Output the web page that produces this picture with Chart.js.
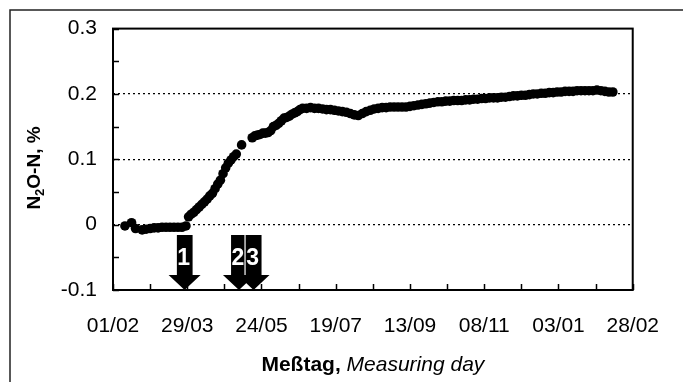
<!DOCTYPE html>
<html>
<head>
<meta charset="utf-8">
<script src="https://cdn.jsdelivr.net/npm/chart.js@4.4.0/dist/chart.umd.min.js"></script>
<style>
  html, body { margin: 0; padding: 0; background: #fff; }
  #wrap { width: 683px; height: 382px; }
</style>
</head>
<body>
<div id="wrap"><canvas id="myChart" width="683" height="382"></canvas></div>
<script>
// measuring day (days after 01/02) and N2O-N in %
const days = [9, 14, 17, 22, 25, 28, 31, 34, 37, 40, 43, 46, 49, 52, 55,
  57, 59, 61, 63, 65, 67, 69, 71, 73, 75, 77, 79, 81, 83, 85, 87, 89, 91, 93, 97,
  105, 107, 109, 111, 113, 115, 117, 119, 121, 123, 125, 127, 129, 131, 133, 135, 137, 139, 141, 143,
  146, 149, 152, 155, 158, 161, 164, 167, 170, 173, 176, 179, 182, 185, 188, 191, 194, 197, 200,
  203, 206, 209, 212, 215, 218, 221, 224, 227, 230, 233, 236, 239, 242, 245, 248, 251, 254, 257,
  260, 263, 266, 269, 272, 275, 278, 281, 284, 287, 290, 293, 296, 299, 302, 305, 308, 311, 314,
  317, 320, 323, 326, 329, 332, 335, 338, 341, 344, 347, 350, 353, 356, 359, 362, 365, 368, 371, 374, 377];
const n2o = [-0.002, 0.003, -0.006, -0.008, -0.007, -0.006, -0.005, -0.005, -0.004, -0.004, -0.004, -0.004, -0.004, -0.004, -0.002,
  0.012, 0.016, 0.019, 0.023, 0.027, 0.031, 0.035, 0.039, 0.044, 0.048, 0.055, 0.062, 0.068, 0.078, 0.087, 0.094, 0.099, 0.104, 0.108, 0.122,
  0.133, 0.136, 0.137, 0.138, 0.140, 0.140, 0.141, 0.144, 0.150, 0.152, 0.155, 0.159, 0.163, 0.164, 0.166, 0.169, 0.171, 0.173, 0.176, 0.178,
  0.178, 0.179, 0.178, 0.178, 0.177, 0.176, 0.176, 0.175, 0.174, 0.173, 0.172, 0.170, 0.168, 0.167, 0.170, 0.173, 0.175, 0.177, 0.178,
  0.179, 0.179, 0.180, 0.180, 0.180, 0.180, 0.180, 0.181, 0.182, 0.183, 0.184, 0.185, 0.186, 0.187, 0.188, 0.188, 0.189, 0.189, 0.190,
  0.190, 0.190, 0.191, 0.191, 0.192, 0.192, 0.193, 0.193, 0.194, 0.194, 0.194, 0.195, 0.195, 0.196, 0.197, 0.197, 0.198, 0.198, 0.199,
  0.200, 0.200, 0.201, 0.201, 0.202, 0.202, 0.203, 0.203, 0.204, 0.204, 0.204, 0.205, 0.205, 0.205, 0.205, 0.205, 0.206, 0.205, 0.204, 0.203, 0.203];

const xTickLabels = ['01/02', '29/03', '24/05', '19/07', '13/09', '08/11', '03/01', '28/02'];
const arrowDays = [54, 95, 106];
const arrowLabels = ['1', '2', '3'];

const FONT = '"Liberation Sans", Arial, sans-serif';

const decorations = {
  id: 'decorations',
  afterDraw(chart) {
    const { ctx, chartArea: a, scales: { x, y } } = chart;
    ctx.save();

    // arrows
    arrowDays.forEach((d, i) => {
      const px = x.getPixelForValue(d);
      const tip = a.bottom;
      const top = tip - 55;
      const headTop = tip - 15;
      ctx.fillStyle = '#000';
      ctx.beginPath();
      ctx.moveTo(px - 8, top);
      ctx.lineTo(px + 8, top);
      ctx.lineTo(px + 8, headTop);
      ctx.lineTo(px + 16, headTop);
      ctx.lineTo(px, tip);
      ctx.lineTo(px - 16, headTop);
      ctx.lineTo(px - 8, headTop);
      ctx.closePath();
      ctx.fill();
      ctx.strokeStyle = '#fff';
      ctx.lineWidth = 1.2;
      ctx.beginPath();
      ctx.moveTo(px - 8.5, top);
      ctx.lineTo(px - 8.5, headTop);
      ctx.stroke();
      ctx.fillStyle = '#fff';
      ctx.font = 'bold 23px ' + FONT;
      ctx.textAlign = 'center';
      ctx.textBaseline = 'middle';
      ctx.fillText(arrowLabels[i], px - 1, tip - 31);
    });

    // outer frame
    ctx.strokeStyle = '#222';
    ctx.lineWidth = 1.5;
    ctx.beginPath();
    ctx.moveTo(10, 382);
    ctx.lineTo(10, 10);
    ctx.lineTo(683, 10);
    ctx.stroke();

    // plot frame
    ctx.strokeStyle = '#000';
    ctx.lineWidth = 2;
    ctx.strokeRect(a.left, a.top, a.right - a.left, a.bottom - a.top);

    // inward tick marks
    ctx.lineWidth = 1.5;
    ctx.beginPath();
    x.ticks.forEach(t => {
      const px = Math.round(x.getPixelForValue(t.value)) + 0.5;
      ctx.moveTo(px, a.bottom);
      ctx.lineTo(px, a.bottom - 6);
    });
    y.ticks.forEach(t => {
      const py = Math.round(y.getPixelForValue(t.value)) + 0.5;
      ctx.moveTo(a.left, py);
      ctx.lineTo(a.left + 6, py);
    });
    ctx.stroke();

    // x axis title: bold + italic
    ctx.fillStyle = '#000';
    ctx.textBaseline = 'middle';
    ctx.textAlign = 'left';
    const t1 = 'Meßtag,';
    const t2 = ' Measuring day';
    ctx.font = 'bold 21px ' + FONT;
    const w1 = ctx.measureText(t1).width;
    ctx.font = 'italic 21px ' + FONT;
    const w2 = ctx.measureText(t2).width;
    const cx = (a.left + a.right) / 2;
    const sx = cx - (w1 + w2) / 2;
    ctx.font = 'bold 21px ' + FONT;
    ctx.fillText(t1, sx, 365);
    ctx.font = 'italic 21px ' + FONT;
    ctx.fillText(t2, sx + w1, 365);

    // y axis title with subscript
    ctx.save();
    ctx.translate(35, 168);
    ctx.rotate(-Math.PI / 2);
    const big = 'bold 19px ' + FONT;
    const small = 'bold 13px ' + FONT;
    const parts = [['N', big, 0], ['2', small, 5], ['O-N, %', big, 0]];
    let total = 0;
    parts.forEach(p => { ctx.font = p[1]; total += ctx.measureText(p[0]).width; });
    let tx = -total / 2;
    ctx.textBaseline = 'middle';
    parts.forEach(p => {
      ctx.font = p[1];
      ctx.fillText(p[0], tx, p[2]);
      tx += ctx.measureText(p[0]).width;
    });
    ctx.restore();

    ctx.restore();
  }
};

function isMajorY(v) {
  const r = Math.round(v * 100);
  return r === 0 || r === 10 || r === 20;
}

new Chart(document.getElementById('myChart'), {
  type: 'scatter',
  data: {
    datasets: [{
      data: days.map((d, i) => ({ x: d, y: n2o[i] })),
      backgroundColor: '#000',
      borderWidth: 0,
      pointRadius: 4.8,
      pointHoverRadius: 4.8,
      showLine: false
    }]
  },
  options: {
    responsive: false,
    animation: false,
    layout: { padding: { left: 0, top: 24, right: 33, bottom: 0 } },
    plugins: { legend: { display: false }, tooltip: { enabled: false } },
    scales: {
      x: {
        type: 'linear',
        min: 0,
        max: 392,
        afterFit: s => { s.height = 92; },
        grid: { display: false, drawTicks: false },
        border: { display: false },
        ticks: {
          stepSize: 28,
          autoSkip: false,
          maxRotation: 0,
          padding: 24,
          color: '#000',
          font: { family: FONT, size: 21 },
          callback: v => (v % 56 === 0 ? xTickLabels[v / 56] : '')
        }
      },
      y: {
        min: -0.1,
        max: 0.3,
        afterFit: s => { s.width = 113; },
        grid: {
          drawTicks: false,
          lineWidth: 1.3,
          color: c => (c.tick && isMajorY(c.tick.value) ? '#000' : 'rgba(0,0,0,0)')
        },
        border: { display: false, dash: [2, 3] },
        ticks: {
          stepSize: 0.05,
          padding: 16,
          color: '#000',
          font: { family: FONT, size: 21 },
          callback: v => {
            const r = Math.round(v * 100);
            if (r % 10 !== 0) return '';
            return r === 0 ? '0' : (r / 100).toFixed(1);
          }
        }
      }
    }
  },
  plugins: [decorations]
});
</script>
</body>
</html>
